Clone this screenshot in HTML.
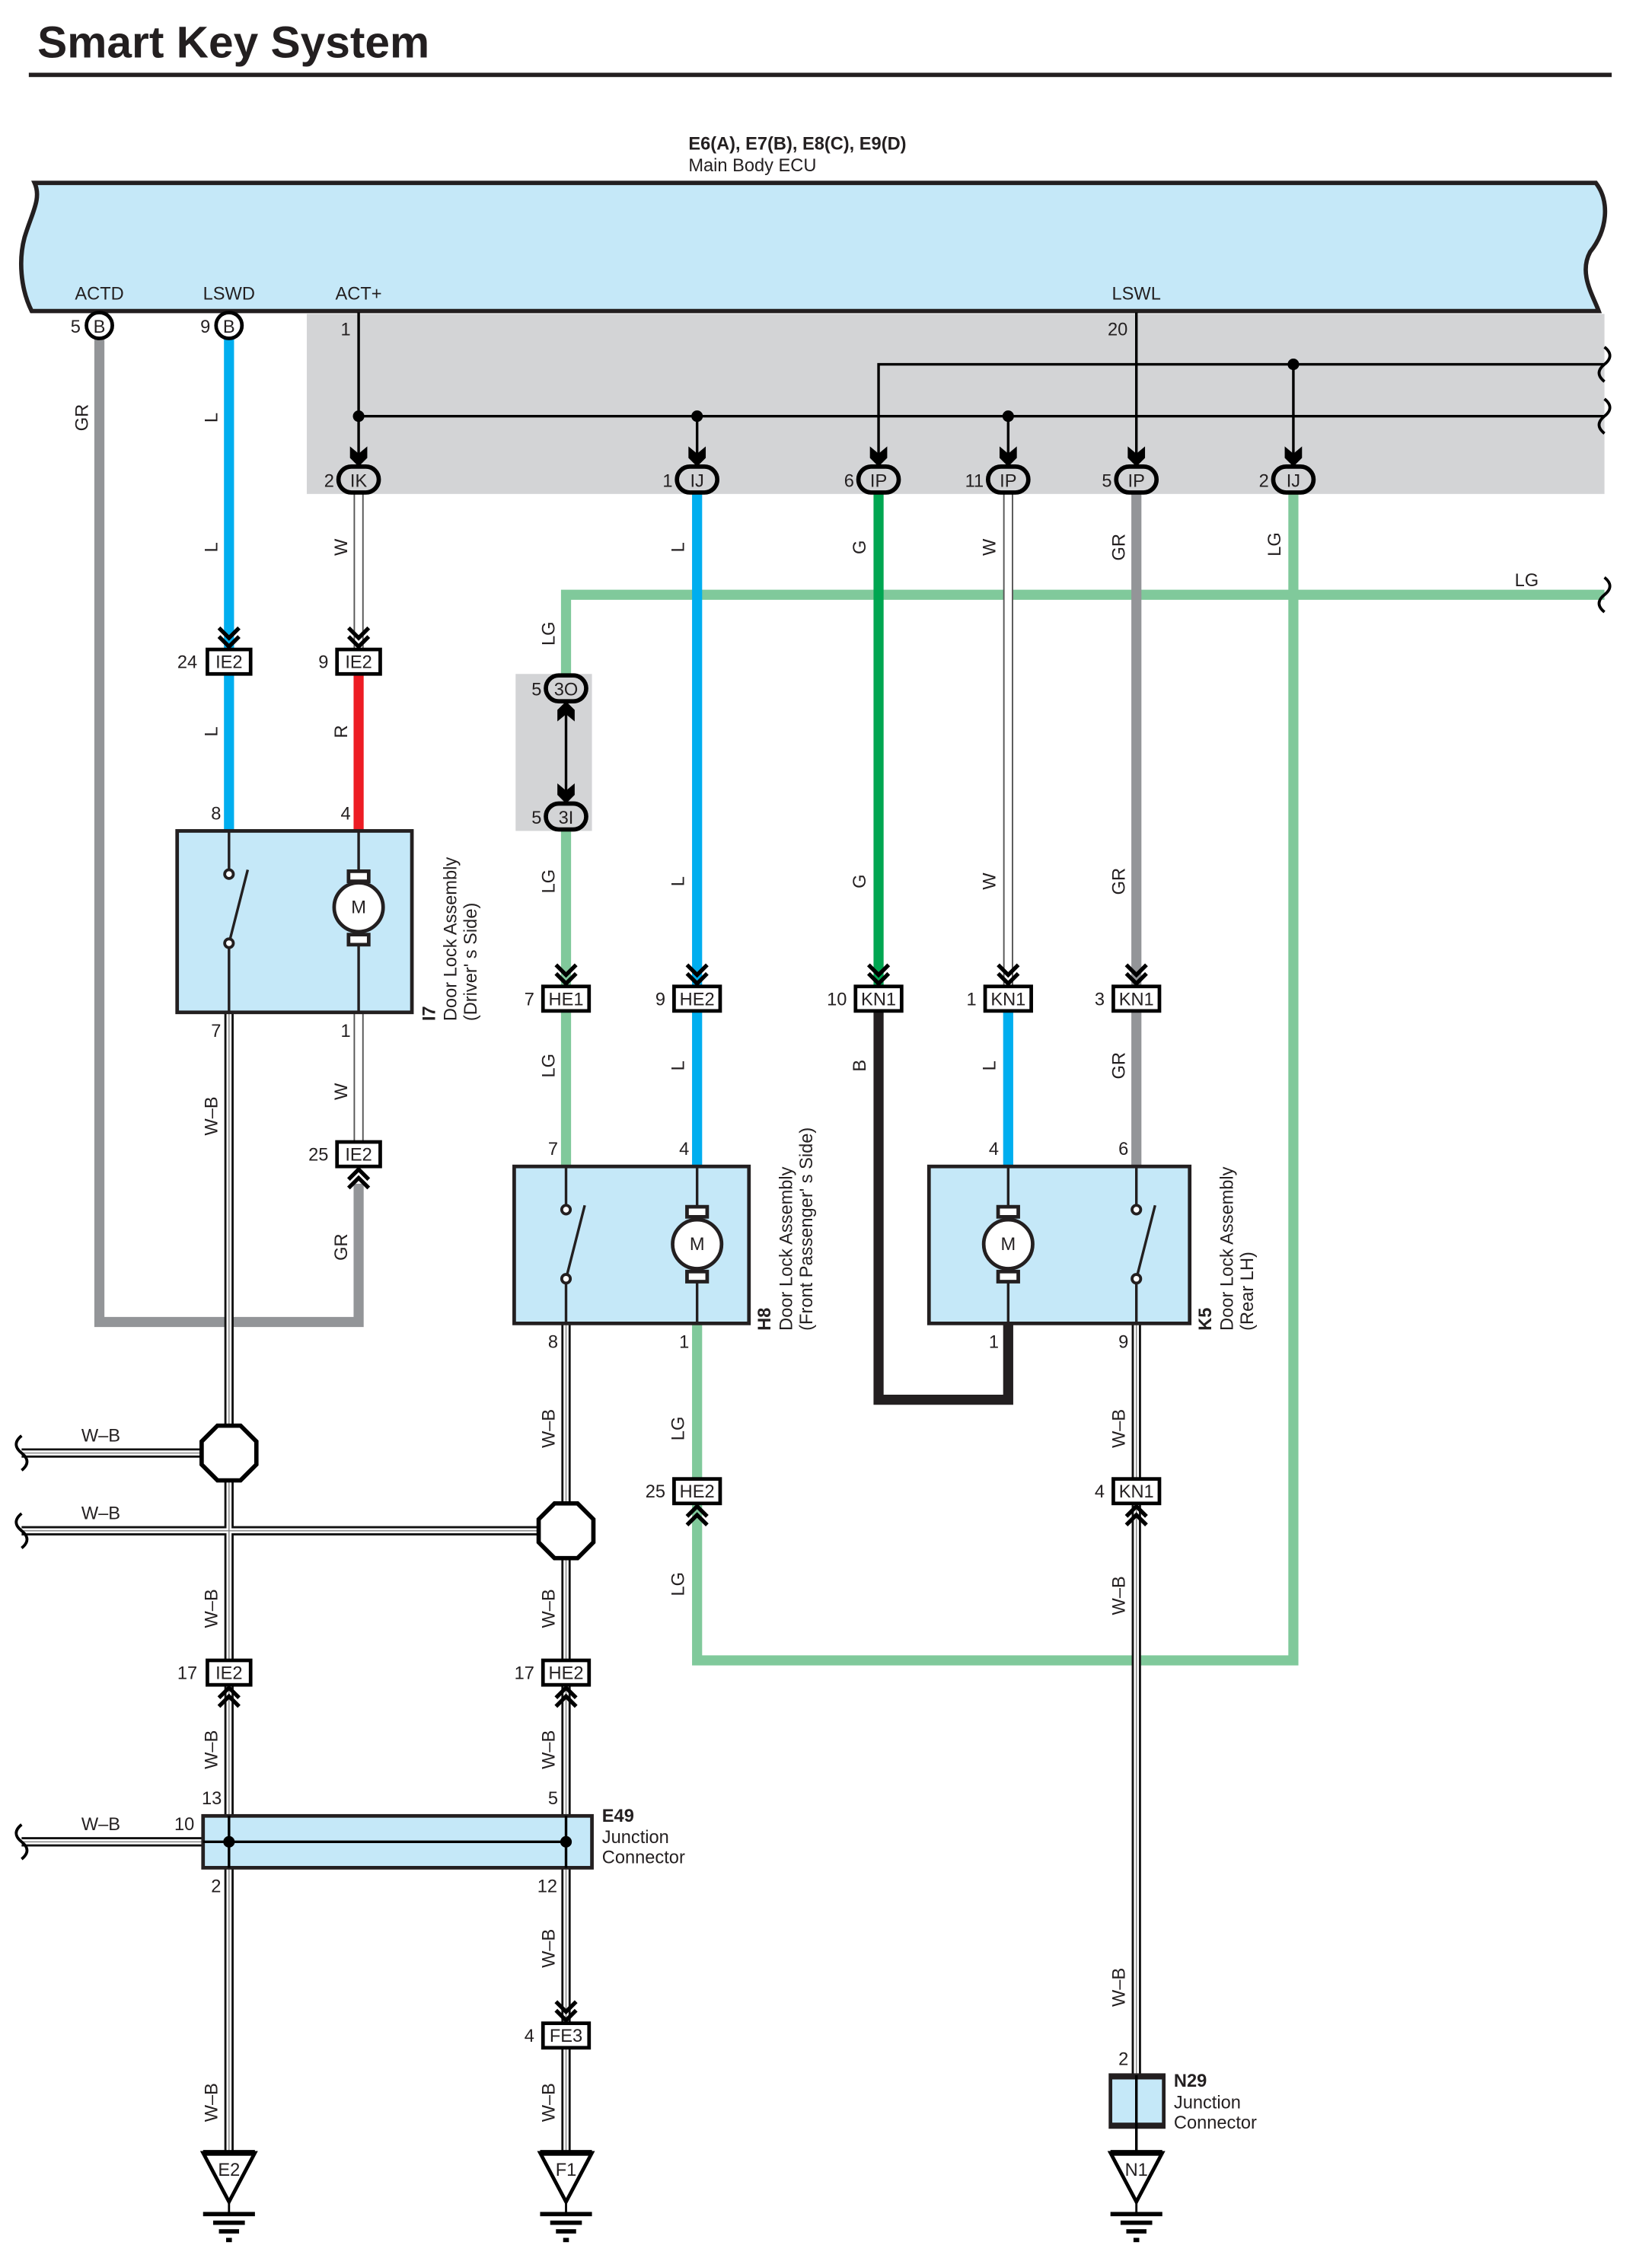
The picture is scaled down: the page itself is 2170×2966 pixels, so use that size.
<!DOCTYPE html>
<html><head><meta charset="utf-8"><style>
html,body{margin:0;padding:0;background:#fff}
svg{display:block}
text{font-family:"Liberation Sans Narrow","Liberation Sans",sans-serif;fill:#231f20;font-size:12.5px}
.b{font-weight:bold}
.t{font-family:"Liberation Sans",sans-serif;font-weight:bold;font-size:31px}
</style></head><body>
<svg width="2170" height="2966" viewBox="0 0 1147 1568" preserveAspectRatio="none" xmlns="http://www.w3.org/2000/svg">
<defs>
<g id="cd"><path d="M-7,-14 L0,-7 L7,-14 M-7,-8 L0,-1 L7,-8" fill="none" stroke="#000" stroke-width="2.8"/></g>
<g id="cu"><path d="M-7,14 L0,7 L7,14 M-7,8 L0,1 L7,8" fill="none" stroke="#000" stroke-width="2.8"/></g>
<polygon id="ad" points="0,0 -6,-6 -6,-14 0,-9 6,-14 6,-6" fill="#000"/>
<polygon id="au" points="0,0 -6,6 -6,14 0,9 6,14 6,6" fill="#000"/>
<path id="sq" d="M0,-12 c5,4 5,8 0,12 c-5,4 -5,8 0,12" fill="none" stroke="#000" stroke-width="2"/>
<path id="sql" d="M0,-12 c-5,4 -5,8 0,12 c5,4 5,8 0,12" fill="none" stroke="#000" stroke-width="2"/>
</defs>

<text x="26" y="40" class="t">Smart Key System</text>
<rect x="20" y="50.5" width="1099" height="3" fill="#231f20"/>

<text x="478" y="104" class="b" style="font-size:12.5px">E6(A), E7(B), E8(C), E9(D)</text>
<text x="478" y="119">Main Body ECU</text>

<path d="M24,127 H1108 C1118,140 1116,160 1104,175 C1096,190 1106,205 1110,216 H22 C14,200 13,180 17,165 C22,148 29,138 24,127 Z" fill="#c5e8f8" stroke="#231f20" stroke-width="3"/>
<text x="69" y="208" text-anchor="middle">ACTD</text>
<text x="159" y="208" text-anchor="middle">LSWD</text>
<text x="249" y="208" text-anchor="middle">ACT+</text>
<text x="789" y="208" text-anchor="middle">LSWL</text>

<rect x="213" y="218" width="901" height="125" fill="#d3d4d6"/>
<rect x="358" y="468" width="53" height="109" fill="#d3d4d6"/>

<g stroke="#000" stroke-width="1.8" fill="none">
<path d="M249,217 V322"/>
<path d="M249,289 H1114"/>
<path d="M484,289 V322"/>
<path d="M700,289 V322"/>
<path d="M610,322 V253 H1114"/>
<path d="M898,253 V322"/>
<path d="M789,217 V322"/>
<path d="M393,487 V558"/>
</g>
<g fill="#000"><circle cx="249" cy="289" r="4"/><circle cx="484" cy="289" r="4"/><circle cx="700" cy="289" r="4"/><circle cx="898" cy="253" r="4"/></g>
<use href="#sq" x="1114" y="253"/><use href="#sq" x="1114" y="289"/>
<text x="240" y="233" text-anchor="middle">1</text>
<text x="776" y="233" text-anchor="middle">20</text>

<g fill="none" stroke-linejoin="miter">
<path d="M69,235 V918 H249 V822" stroke="#939598" stroke-width="7"/>
<path d="M159,235 V450 M159,468 V577" stroke="#00aeef" stroke-width="7"/>
<path d="M249,468 V577" stroke="#ed1c24" stroke-width="7"/>
<path d="M1114,413 H393 V470 M393,576 V684 M393,702 V810" stroke="#80c99b" stroke-width="7"/>
<path d="M484,919 V1027 M484,1045 V1153 H898 V342" stroke="#80c99b" stroke-width="7"/>
<path d="M484,342 V684 M484,702 V810" stroke="#00aeef" stroke-width="7"/>
<path d="M610,342 V684" stroke="#00a651" stroke-width="7"/>
<path d="M610,702 V972 H700 V919" stroke="#231f20" stroke-width="7"/>
<path d="M700,702 V810" stroke="#00aeef" stroke-width="7"/>
<path d="M789,342 V684 M789,702 V810" stroke="#939598" stroke-width="7"/>
</g>
<g fill="none">
<path d="M249,342 V450 M249,703 V793 M700,342 V684" stroke="#555" stroke-width="7"/>
<path d="M249,342 V450 M249,703 V793 M700,342 V684" stroke="#fff" stroke-width="5"/>
</g>
<g fill="none">
<path d="M159,703 V1152 M159,1170 V1261 M159,1297 V1495 M393,919 V1152 M393,1170 V1261 M393,1297 V1404 M393,1422 V1495 M789,919 V1027 M789,1045 V1441 M15,1009 H140 M15,1063 H374 M15,1279 H141" stroke="#111" stroke-width="6.5"/>
<path d="M159,703 V1152 M159,1170 V1261 M159,1297 V1495 M393,919 V1152 M393,1170 V1261 M393,1297 V1404 M393,1422 V1495 M789,919 V1027 M789,1045 V1441 M15,1009 H140 M15,1063 H374 M15,1279 H141" stroke="#fff" stroke-width="3.5"/>
<path d="M159,703 V1152 M159,1170 V1261 M159,1297 V1495 M393,919 V1152 M393,1170 V1261 M393,1297 V1404 M393,1422 V1495 M789,919 V1027 M789,1045 V1441 M15,1009 H140 M15,1063 H374 M15,1279 H141" stroke="#888" stroke-width="0.8"/>
</g>
<use href="#sql" x="15" y="1009"/><use href="#sql" x="15" y="1063"/><use href="#sql" x="15" y="1279"/><use href="#sq" x="1114" y="413"/>
<text x="1060" y="407" text-anchor="middle">LG</text>
<text x="70" y="1001" text-anchor="middle">W–B</text>
<text x="70" y="1055" text-anchor="middle">W–B</text>
<text x="70" y="1271" text-anchor="middle">W–B</text>

<g stroke="#000" stroke-width="2.5" fill="#fff">
<circle cx="69" cy="226" r="9"/><circle cx="159" cy="226" r="9"/>
</g>
<text x="69" y="231" text-anchor="middle">B</text><text x="159" y="231" text-anchor="middle">B</text>
<text x="56" y="231" text-anchor="end">5</text><text x="146" y="231" text-anchor="end">9</text>

<g stroke="#000" stroke-width="3" fill="#d3d4d6">
<rect x="235" y="324" width="28" height="18" rx="9"/>
<rect x="470" y="324" width="28" height="18" rx="9"/>
<rect x="596" y="324" width="28" height="18" rx="9"/>
<rect x="686" y="324" width="28" height="18" rx="9"/>
<rect x="775" y="324" width="28" height="18" rx="9"/>
<rect x="884" y="324" width="28" height="18" rx="9"/>
<rect x="379" y="469" width="28" height="18" rx="9"/>
<rect x="379" y="558" width="28" height="18" rx="9"/>
</g>
<g text-anchor="middle">
<text x="249" y="338">IK</text><text x="484" y="338">IJ</text><text x="610" y="338">IP</text><text x="700" y="338">IP</text><text x="789" y="338">IP</text><text x="898" y="338">IJ</text>
<text x="393" y="483">3O</text><text x="393" y="572">3I</text>
</g>
<g text-anchor="end">
<text x="232" y="338">2</text><text x="467" y="338">1</text><text x="593" y="338">6</text><text x="683" y="338">11</text><text x="772" y="338">5</text><text x="881" y="338">2</text>
<text x="376" y="483">5</text><text x="376" y="572">5</text>
</g>
<use href="#ad" x="249" y="324"/><use href="#ad" x="484" y="324"/><use href="#ad" x="610" y="324"/><use href="#ad" x="700" y="324"/><use href="#ad" x="789" y="324"/><use href="#ad" x="898" y="324"/>
<use href="#au" x="393" y="487"/><use href="#ad" x="393" y="558"/>

<g stroke="#000" stroke-width="2.5" fill="#fff">
<rect x="144" y="451" width="30" height="17"/>
<rect x="234" y="451" width="30" height="17"/>
<rect x="234" y="793" width="30" height="17"/>
<rect x="377" y="685" width="32" height="17"/>
<rect x="468" y="685" width="32" height="17"/>
<rect x="594" y="685" width="32" height="17"/>
<rect x="684" y="685" width="32" height="17"/>
<rect x="773" y="685" width="32" height="17"/>
<rect x="468" y="1027" width="32" height="17"/>
<rect x="773" y="1027" width="32" height="17"/>
<rect x="144" y="1153" width="30" height="17"/>
<rect x="377" y="1153" width="32" height="17"/>
<rect x="377" y="1405" width="32" height="17"/>
</g>
<g text-anchor="middle">
<text x="159" y="464">IE2</text><text x="249" y="464">IE2</text><text x="249" y="806">IE2</text>
<text x="393" y="698">HE1</text><text x="484" y="698">HE2</text><text x="610" y="698">KN1</text><text x="700" y="698">KN1</text><text x="789" y="698">KN1</text>
<text x="484" y="1040">HE2</text><text x="789" y="1040">KN1</text>
<text x="159" y="1166">IE2</text><text x="393" y="1166">HE2</text><text x="393" y="1418">FE3</text>
</g>
<g text-anchor="end">
<text x="137" y="464">24</text><text x="228" y="464">9</text><text x="228" y="806">25</text>
<text x="371" y="698">7</text><text x="462" y="698">9</text><text x="588" y="698">10</text><text x="678" y="698">1</text><text x="767" y="698">3</text>
<text x="462" y="1040">25</text><text x="767" y="1040">4</text>
<text x="137" y="1166">17</text><text x="371" y="1166">17</text><text x="371" y="1418">4</text>
</g>
<use href="#cd" x="159" y="450"/><use href="#cd" x="249" y="450"/><use href="#cu" x="249" y="811"/>
<use href="#cd" x="393" y="684"/><use href="#cd" x="484" y="684"/><use href="#cd" x="610" y="684"/><use href="#cd" x="700" y="684"/><use href="#cd" x="789" y="684"/>
<use href="#cu" x="484" y="1045"/><use href="#cu" x="789" y="1045"/>
<use href="#cu" x="159" y="1171"/><use href="#cu" x="393" y="1171"/><use href="#cd" x="393" y="1404"/>

<g stroke="#231f20" stroke-width="2.5" fill="#c5e8f8">
<rect x="123" y="577" width="163" height="126"/>
<rect x="357" y="810" width="163" height="109"/>
<rect x="645" y="810" width="181" height="109"/>
</g>
<g stroke="#231f20" stroke-width="1.8" fill="none">
<path d="M159,577 V604 M159,658 V703 M159,655 L172,604"/>
<path d="M249,577 V605 M249,657 V703"/>
<path d="M393,810 V837 M393,891 V919 M393,888 L406,837"/>
<path d="M484,810 V838 M484,890 V919"/>
<path d="M700,810 V838 M700,890 V919"/>
<path d="M789,810 V837 M789,891 V919 M789,888 L802,837"/>
</g>
<g stroke="#231f20" stroke-width="2" fill="#fff">
<circle cx="159" cy="607" r="3"/><circle cx="159" cy="655" r="3"/>
<circle cx="393" cy="840" r="3"/><circle cx="393" cy="888" r="3"/>
<circle cx="789" cy="840" r="3"/><circle cx="789" cy="888" r="3"/>
</g>
<g stroke="#231f20" stroke-width="2.5" fill="#fff">
<rect x="242" y="605" width="14" height="7"/><circle cx="249" cy="630" r="17"/><rect x="242" y="649" width="14" height="7"/>
<rect x="477" y="838" width="14" height="7"/><circle cx="484" cy="864" r="17"/><rect x="477" y="883" width="14" height="7"/>
<rect x="693" y="838" width="14" height="7"/><circle cx="700" cy="864" r="17"/><rect x="693" y="883" width="14" height="7"/>
</g>
<g text-anchor="middle" style="font-size:11px">
<text x="249" y="634">M</text><text x="484" y="868">M</text><text x="700" y="868">M</text>
</g>
<g text-anchor="middle">
<text x="150" y="569">8</text><text x="240" y="569">4</text><text x="150" y="720">7</text><text x="240" y="720">1</text>
<text x="384" y="802">7</text><text x="475" y="802">4</text><text x="384" y="936">8</text><text x="475" y="936">1</text>
<text x="690" y="802">4</text><text x="780" y="802">6</text><text x="690" y="936">1</text><text x="780" y="936">9</text>
</g>
<text transform="translate(302,709) rotate(-90)" class="b">I7</text>
<text transform="translate(317,709) rotate(-90)">Door Lock Assembly</text>
<text transform="translate(331,709) rotate(-90)">(Driver' s Side)</text>
<text transform="translate(535,924) rotate(-90)" class="b">H8</text>
<text transform="translate(550,924) rotate(-90)">Door Lock Assembly</text>
<text transform="translate(564,924) rotate(-90)">(Front Passenger' s Side)</text>
<text transform="translate(841,924) rotate(-90)" class="b">K5</text>
<text transform="translate(856,924) rotate(-90)">Door Lock Assembly</text>
<text transform="translate(870,924) rotate(-90)">(Rear LH)</text>

<g stroke="#000" stroke-width="3" fill="#fff">
<polygon points="151,990 167,990 178,1001 178,1017 167,1028 151,1028 140,1017 140,1001"/>
<polygon points="385,1044 401,1044 412,1055 412,1071 401,1082 385,1082 374,1071 374,1055"/>
</g>

<rect x="141" y="1261" width="270" height="36" fill="#c5e8f8" stroke="#231f20" stroke-width="2.5"/>
<g stroke="#000" stroke-width="1.8"><path d="M141,1279 H393 M159,1261 V1297 M393,1261 V1297"/></g>
<circle cx="159" cy="1279" r="4"/><circle cx="393" cy="1279" r="4"/>
<text x="147" y="1253" text-anchor="middle">13</text><text x="384" y="1253" text-anchor="middle">5</text>
<text x="128" y="1271" text-anchor="middle">10</text>
<text x="150" y="1314" text-anchor="middle">2</text><text x="380" y="1314" text-anchor="middle">12</text>
<text x="418" y="1265" class="b">E49</text><text x="418" y="1280">Junction</text><text x="418" y="1294">Connector</text>

<rect x="771" y="1441" width="37" height="36" fill="#c5e8f8" stroke="#231f20" stroke-width="2.5"/>
<rect x="771" y="1440" width="37" height="4" fill="#231f20"/><rect x="771" y="1474" width="37" height="4" fill="#231f20"/>
<path d="M789,1441 V1495" stroke="#000" stroke-width="1.8"/>
<text x="780" y="1434" text-anchor="middle">2</text>
<text x="815" y="1449" class="b">N29</text><text x="815" y="1464">Junction</text><text x="815" y="1478">Connector</text>

<g stroke="#000" fill="#fff">
<polygon points="141,1495 177,1495 159,1529" stroke-width="2.5"/>
<polygon points="375,1495 411,1495 393,1529" stroke-width="2.5"/>
<polygon points="771,1495 807,1495 789,1529" stroke-width="2.5"/>
<path d="M159,1529 V1537 M393,1529 V1537 M789,1529 V1537" stroke-width="1.5"/>
</g>
<g fill="#000">
<rect x="141" y="1493" width="36" height="4"/><rect x="375" y="1493" width="36" height="4"/><rect x="771" y="1493" width="36" height="4"/>
<rect x="141" y="1536" width="36" height="3"/><rect x="148" y="1542" width="22" height="3"/><rect x="152" y="1548" width="14" height="3"/><rect x="157" y="1554" width="4" height="3"/>
<rect x="375" y="1536" width="36" height="3"/><rect x="382" y="1542" width="22" height="3"/><rect x="386" y="1548" width="14" height="3"/><rect x="391" y="1554" width="4" height="3"/>
<rect x="771" y="1536" width="36" height="3"/><rect x="778" y="1542" width="22" height="3"/><rect x="782" y="1548" width="14" height="3"/><rect x="787" y="1554" width="4" height="3"/>
</g>
<g text-anchor="middle"><text x="159" y="1511">E2</text><text x="393" y="1511">F1</text><text x="789" y="1511">N1</text></g>

<g text-anchor="middle">
<text transform="translate(61,290) rotate(-90)">GR</text>
<text transform="translate(151,290) rotate(-90)">L</text>
<text transform="translate(151,380) rotate(-90)">L</text>
<text transform="translate(241,380) rotate(-90)">W</text>
<text transform="translate(475,380) rotate(-90)">L</text>
<text transform="translate(601,380) rotate(-90)">G</text>
<text transform="translate(691,380) rotate(-90)">W</text>
<text transform="translate(781,380) rotate(-90)">GR</text>
<text transform="translate(889,378) rotate(-90)">LG</text>
<text transform="translate(385,440) rotate(-90)">LG</text>
<text transform="translate(151,508) rotate(-90)">L</text>
<text transform="translate(241,508) rotate(-90)">R</text>
<text transform="translate(385,612) rotate(-90)">LG</text>
<text transform="translate(475,612) rotate(-90)">L</text>
<text transform="translate(601,612) rotate(-90)">G</text>
<text transform="translate(691,612) rotate(-90)">W</text>
<text transform="translate(781,612) rotate(-90)">GR</text>
<text transform="translate(151,775) rotate(-90)">W–B</text>
<text transform="translate(241,758) rotate(-90)">W</text>
<text transform="translate(241,866) rotate(-90)">GR</text>
<text transform="translate(385,740) rotate(-90)">LG</text>
<text transform="translate(475,740) rotate(-90)">L</text>
<text transform="translate(601,740) rotate(-90)">B</text>
<text transform="translate(691,740) rotate(-90)">L</text>
<text transform="translate(781,740) rotate(-90)">GR</text>
<text transform="translate(385,992) rotate(-90)">W–B</text>
<text transform="translate(475,992) rotate(-90)">LG</text>
<text transform="translate(781,992) rotate(-90)">W–B</text>
<text transform="translate(475,1100) rotate(-90)">LG</text>
<text transform="translate(781,1108) rotate(-90)">W–B</text>
<text transform="translate(151,1117) rotate(-90)">W–B</text>
<text transform="translate(385,1117) rotate(-90)">W–B</text>
<text transform="translate(151,1215) rotate(-90)">W–B</text>
<text transform="translate(385,1215) rotate(-90)">W–B</text>
<text transform="translate(385,1353) rotate(-90)">W–B</text>
<text transform="translate(151,1460) rotate(-90)">W–B</text>
<text transform="translate(385,1460) rotate(-90)">W–B</text>
<text transform="translate(781,1380) rotate(-90)">W–B</text>
</g>
</svg>
</body></html>
